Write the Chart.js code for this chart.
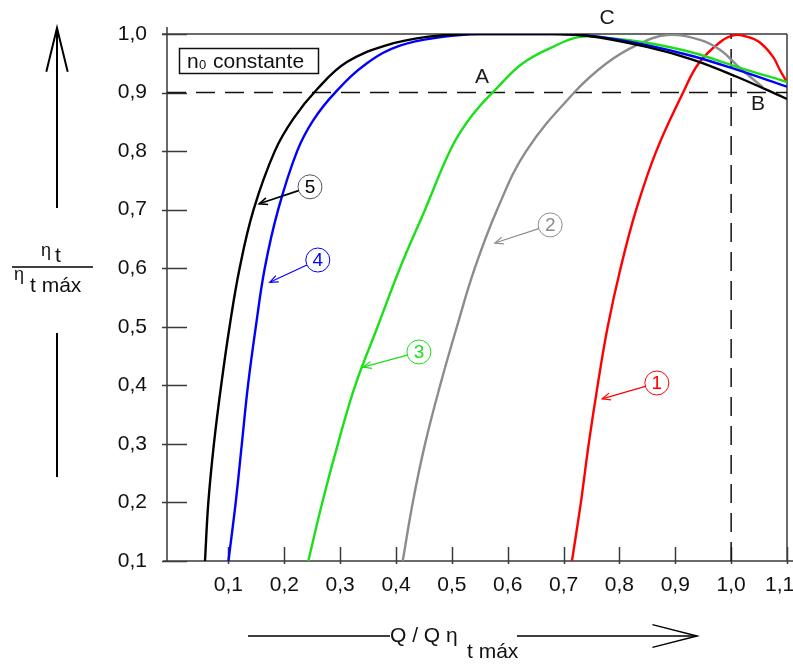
<!DOCTYPE html>
<html lang="es">
<head>
<meta charset="UTF-8">
<title>Rendimiento relativo con n0 constante</title>
<script src="https://cdn.jsdelivr.net/npm/chart.js@4.4.1/dist/chart.umd.min.js"></script>
<style>
    * { margin: 0; padding: 0; box-sizing: border-box; }
    body { background: #fff; }
    #wrap { width: 793px; height: 664px; }
</style>
</head>
<body>
<div id="wrap"><canvas id="chart" width="793" height="664"></canvas></div>
<script>
// ejes
const xTicks = [0.1, 0.2, 0.3, 0.4, 0.5, 0.6, 0.7, 0.8, 0.9, 1.0, 1.1];
const yTicks = [0.1, 0.2, 0.3, 0.4, 0.5, 0.6, 0.7, 0.8, 0.9, 1.0];

// curvas (Q/Qmax , eta/etamax)
const curve1X = [0.715, 0.731, 0.745, 0.761, 0.779, 0.802, 0.830, 0.866, 0.914, 0.942, 0.980, 1.006, 1.030, 1.052, 1.075, 1.087, 1.100];
const curve1Y = [0.100, 0.200, 0.300, 0.400, 0.500, 0.600, 0.700, 0.800, 0.900, 0.950, 0.986, 0.998, 0.995, 0.985, 0.961, 0.939, 0.918];

const curve2X = [0.412, 0.430, 0.452, 0.479, 0.509, 0.541, 0.581, 0.633, 0.719, 0.777, 0.831, 0.885, 0.944, 0.980, 1.010, 1.034, 1.057];
const curve2Y = [0.100, 0.200, 0.300, 0.400, 0.500, 0.600, 0.700, 0.800, 0.900, 0.950, 0.981, 0.998, 0.990, 0.973, 0.947, 0.927, 0.909];

const curve3X = [0.243, 0.268, 0.296, 0.327, 0.367, 0.407, 0.452, 0.500, 0.537, 0.581, 0.627, 0.681, 0.729, 0.783, 0.849, 0.932, 1.010, 1.100];
const curve3Y = [0.100, 0.200, 0.300, 0.400, 0.500, 0.600, 0.700, 0.807, 0.862, 0.908, 0.950, 0.978, 0.995, 0.993, 0.985, 0.968, 0.944, 0.918];

const curve4X = [0.100, 0.113, 0.124, 0.135, 0.149, 0.165, 0.189, 0.223, 0.252, 0.291, 0.348, 0.407, 0.484, 0.550, 0.694, 0.765, 0.849, 0.932, 1.010, 1.100];
const curve4Y = [0.100, 0.200, 0.300, 0.400, 0.500, 0.600, 0.700, 0.800, 0.853, 0.900, 0.950, 0.980, 0.995, 1.000, 1.000, 0.995, 0.981, 0.962, 0.939, 0.910];

const curve5X = [0.058, 0.064, 0.074, 0.087, 0.102, 0.120, 0.145, 0.183, 0.216, 0.259, 0.312, 0.384, 0.455, 0.532, 0.667, 0.742, 0.849, 0.932, 1.010, 1.100];
const curve5Y = [0.100, 0.200, 0.300, 0.400, 0.500, 0.600, 0.700, 0.800, 0.855, 0.906, 0.952, 0.981, 0.995, 1.000, 1.000, 0.997, 0.978, 0.956, 0.927, 0.889];

// lineas de referencia
const refY = 0.9;
const refX = 1.0;

// llamadas numeradas: posicion del circulo y punta de la flecha
const calloutText = ['1', '2', '3', '4', '5'];
const calloutX = [0.867, 0.676, 0.441, 0.260, 0.246];
const calloutY = [0.404, 0.674, 0.457, 0.614, 0.739];
const calloutTipX = [0.769, 0.577, 0.341, 0.174, 0.155];
const calloutTipY = [0.377, 0.643, 0.431, 0.576, 0.710];

// puntos A, B, C
const pointText = ['A', 'B', 'C'];
const pointX = [0.554, 1.048, 0.778];
const pointY = [0.927, 0.880, 1.027];

const colors = ['#ff0000', '#8c8c8c', '#19e019', '#0000ff', '#000000'];
const FONT = "'Liberation Sans', Arial, sans-serif";

function fmt(v) {
    const s = v.toFixed(1).replace('.', ',');
    // la ultima etiqueta queda algo corrida a la izquierda en el original
    return v > 1.05 ? s + '\u2002\u2009' : s;
}

function toPoints(xs, ys) {
    return xs.map((x, i) => ({ x: x, y: ys[i] }));
}

function arrowHead(ctx, x0, y0, x1, y1, len, spread) {
    const a = Math.atan2(y1 - y0, x1 - x0);
    ctx.beginPath();
    ctx.moveTo(x1 - len * Math.cos(a - spread), y1 - len * Math.sin(a - spread));
    ctx.lineTo(x1, y1);
    ctx.lineTo(x1 - len * Math.cos(a + spread), y1 - len * Math.sin(a + spread));
    ctx.stroke();
}

const decor = {
    id: 'decor',
    beforeDatasetsDraw(chart) {
        const ctx = chart.ctx;
        const a = chart.chartArea;
        const xs = chart.scales.x, ys = chart.scales.y;
        ctx.save();
        ctx.strokeStyle = '#3a3a3a';
        ctx.lineWidth = 1.5;
        ctx.beginPath();
        ctx.moveTo(a.left, a.top - 7); ctx.lineTo(a.left, a.bottom);
        ctx.moveTo(a.left - 5, a.top); ctx.lineTo(a.right, a.top);
        ctx.moveTo(a.right, a.top); ctx.lineTo(a.right, a.bottom);
        ctx.moveTo(a.left - 4, a.bottom); ctx.lineTo(chart.width, a.bottom);
        yTicks.forEach(v => {
            const py = Math.round(ys.getPixelForValue(v)) + 0.5;
            ctx.moveTo(a.left - 5, py); ctx.lineTo(a.left + 20, py);
        });
        xTicks.forEach(v => {
            const px = Math.round(xs.getPixelForValue(v)) + 0.5;
            ctx.moveTo(px, a.bottom + 3); ctx.lineTo(px, a.bottom - 14);
        });
        ctx.stroke();

        // cuadro n0 constante
        ctx.lineWidth = 1.5;
        ctx.strokeStyle = '#111';
        ctx.strokeRect(a.left + 12.5, a.top + 14.5, 139, 25);
        ctx.fillStyle = '#111';
        ctx.textBaseline = 'alphabetic';
        ctx.textAlign = 'left';
        ctx.font = '21px ' + FONT;
        ctx.fillText('n', a.left + 20, a.top + 34);
        ctx.font = '13px ' + FONT;
        ctx.fillText('0', a.left + 32, a.top + 35);
        ctx.font = '21px ' + FONT;
        ctx.fillText('constante', a.left + 46, a.top + 34);
        ctx.restore();
    },
    afterDatasetsDraw(chart) {
        const ctx = chart.ctx;
        const xs = chart.scales.x, ys = chart.scales.y;
        ctx.save();

        // llamadas numeradas
        calloutText.forEach((t, i) => {
            const cx = xs.getPixelForValue(calloutX[i]);
            const cy = ys.getPixelForValue(calloutY[i]);
            const tx = xs.getPixelForValue(calloutTipX[i]);
            const ty = ys.getPixelForValue(calloutTipY[i]);
            const r = 12;
            const ang = Math.atan2(ty - cy, tx - cx);
            const sx = cx + r * Math.cos(ang), sy = cy + r * Math.sin(ang);
            const col = colors[i];
            ctx.strokeStyle = i === 4 ? '#555' : col;
            ctx.lineWidth = 1;
            ctx.beginPath();
            ctx.arc(cx, cy, r, 0, Math.PI * 2);
            ctx.stroke();
            ctx.strokeStyle = col;
            ctx.lineWidth = i === 4 ? 1.6 : 1.2;
            ctx.beginPath();
            ctx.moveTo(sx, sy); ctx.lineTo(tx, ty);
            ctx.stroke();
            arrowHead(ctx, sx, sy, tx, ty, 9, 0.4);
            ctx.fillStyle = col;
            ctx.font = '19px ' + FONT;
            ctx.textAlign = 'center';
            ctx.textBaseline = 'middle';
            ctx.fillText(t, cx, cy + 1);
        });

        // letras A B C
        ctx.fillStyle = '#1a1a1a';
        ctx.font = '21px ' + FONT;
        ctx.textAlign = 'center';
        ctx.textBaseline = 'middle';
        pointText.forEach((t, i) => {
            ctx.fillText(t, xs.getPixelForValue(pointX[i]), ys.getPixelForValue(pointY[i]));
        });

        // titulo eje y (fraccion con flechas)
        ctx.strokeStyle = '#000';
        ctx.lineWidth = 2;
        ctx.beginPath();
        ctx.moveTo(57, 28); ctx.lineTo(57, 208);
        ctx.moveTo(57, 333); ctx.lineTo(57, 477);
        ctx.stroke();
        arrowHead(ctx, 57, 208, 57, 28, 45, 0.24);
        ctx.lineWidth = 1.5;
        ctx.beginPath();
        ctx.moveTo(12, 267); ctx.lineTo(93, 267);
        ctx.stroke();
        ctx.fillStyle = '#111';
        ctx.textAlign = 'left';
        ctx.textBaseline = 'alphabetic';
        ctx.font = '18px ' + FONT;
        ctx.fillText('η', 41, 256);
        ctx.fillText('η', 14, 280);
        ctx.font = '21px ' + FONT;
        ctx.fillText('t', 55, 262);
        ctx.fillText('t máx', 30, 292);

        // titulo eje x
        ctx.lineWidth = 1.5;
        ctx.beginPath();
        ctx.moveTo(248, 636); ctx.lineTo(390, 636);
        ctx.moveTo(517, 636); ctx.lineTo(697, 636);
        ctx.stroke();
        arrowHead(ctx, 517, 636, 697, 636, 46, 0.25);
        ctx.font = '21px ' + FONT;
        ctx.fillText('Q / Q η', 390, 642);
        ctx.fillText('t máx', 467, 658);
        ctx.restore();
    }
};

const lineStyle = {
    borderWidth: 2.4,
    pointRadius: 0,
    fill: false,
    tension: 0.4
};

const curves = [
    [curve5X, curve5Y, 4],
    [curve4X, curve4Y, 3],
    [curve3X, curve3Y, 2],
    [curve2X, curve2Y, 1],
    [curve1X, curve1Y, 0]
];

const datasets = curves.map(c => Object.assign({
    label: calloutText[c[2]],
    data: toPoints(c[0], c[1]),
    borderColor: colors[c[2]]
}, lineStyle));

datasets.push({
    label: 'ref y',
    data: [{ x: -0.01, y: refY }, { x: 1.1, y: refY }],
    borderColor: '#111', borderWidth: 1.5, borderDash: [19, 10],
    pointRadius: 0, tension: 0
});
datasets.push({
    label: 'ref x',
    data: [{ x: refX, y: 0.1 }, { x: refX, y: 1.0 }],
    borderColor: '#111', borderWidth: 1.5, borderDash: [19, 10],
    pointRadius: 0, tension: 0
});

const tickFont = { family: FONT, size: 21 };

new Chart(document.getElementById('chart'), {
    type: 'line',
    data: { datasets: datasets },
    options: {
        responsive: false,
        animation: false,
        layout: { padding: { top: 34, right: 6, left: 0, bottom: 0 } },
        plugins: { legend: { display: false }, tooltip: { enabled: false } },
        scales: {
            x: {
                type: 'linear',
                min: -0.01,
                max: 1.1,
                afterBuildTicks: s => { s.ticks = xTicks.map(v => ({ value: v })); },
                afterFit: s => { s.height = 103; s.paddingLeft = 0; s.paddingRight = 0; },
                grid: { display: false, drawTicks: false },
                border: { display: false },
                ticks: { padding: 12, font: tickFont, color: '#111', maxRotation: 0, autoSkip: false, callback: v => fmt(v) }
            },
            y: {
                type: 'linear',
                min: 0.1,
                max: 1.0,
                afterBuildTicks: s => { s.ticks = yTicks.map(v => ({ value: v })); },
                afterFit: s => { s.width = 167; s.paddingTop = 0; s.paddingBottom = 0; },
                grid: { display: false, drawTicks: false },
                border: { display: false },
                ticks: { padding: 20, font: tickFont, color: '#111', autoSkip: false, callback: v => fmt(v) }
            }
        }
    },
    plugins: [decor]
});
</script>
</body>
</html>
